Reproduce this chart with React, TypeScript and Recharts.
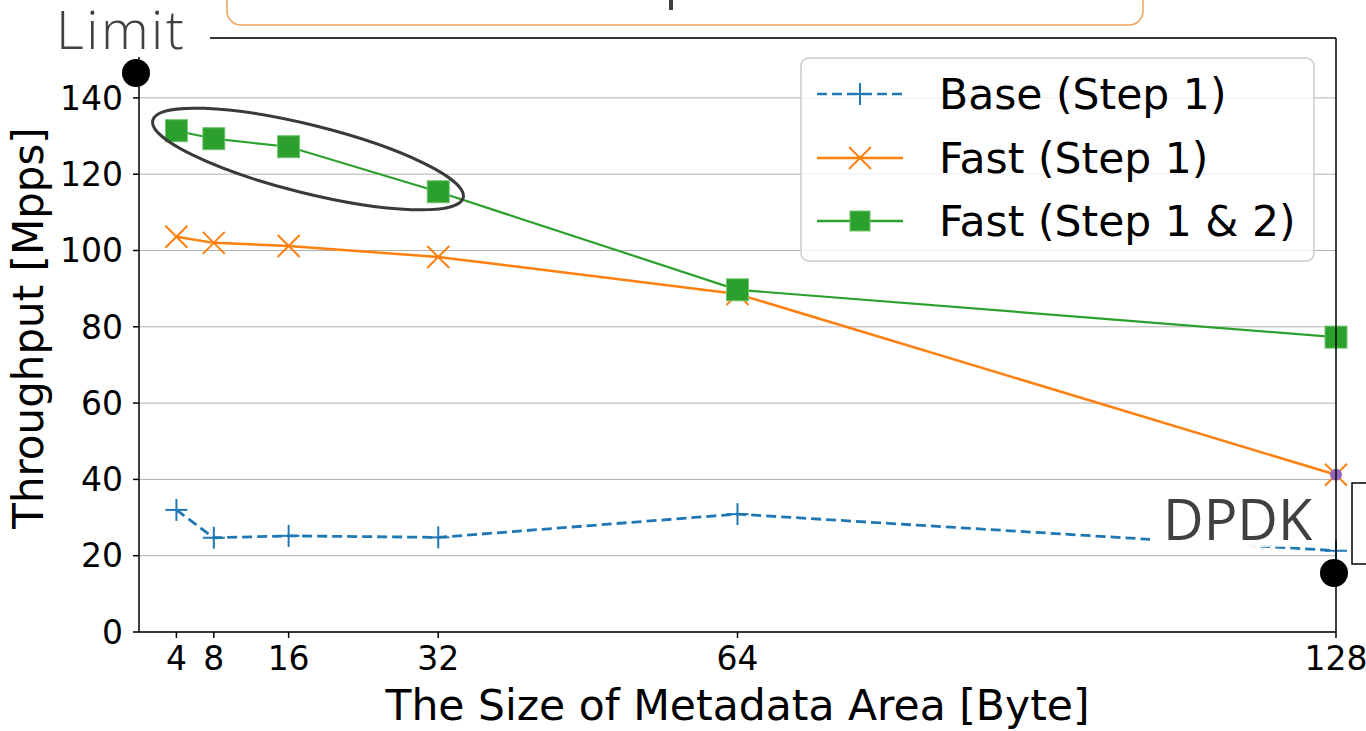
import React from 'react';
import { LineChart, Line, XAxis, YAxis, CartesianGrid, ReferenceDot, Label } from 'recharts';

// metadata area size in bytes
const sizes = [4, 8, 16, 32, 64, 128];
// throughput in Mpps
const baseStep1 = [32.0, 24.7, 25.2, 24.8, 30.9, 21.3];
const fastStep1 = [103.6, 102.0, 101.2, 98.3, 88.6, 41.2];
const fastStep12 = [131.4, 129.3, 127.2, 115.4, 89.7, 77.3];
const yTicks = [0, 20, 40, 60, 80, 100, 120, 140];

const BLUE = '#1f77b4';
const ORANGE = '#ff7f0e';
const GREEN = '#2ca02c';
const FONT = '"DejaVu Sans", sans-serif';
const SLIDE_FONT = '"Open Sans", "Noto Sans", sans-serif';

const data = sizes.map((s, i) => ({
  size: s,
  base: baseStep1[i],
  fast: fastStep1[i],
  fast2: fastStep12[i],
}));

const plusMark = (cx: number, cy: number, key?: string) => (
  <g key={key}>
    <line x1={cx} y1={cy - 11} x2={cx} y2={cy + 11} stroke={BLUE} strokeWidth={2} />
    <line x1={cx - 11} y1={cy} x2={cx + 11} y2={cy} stroke={BLUE} strokeWidth={2} />
  </g>
);

const crossMark = (cx: number, cy: number, key?: string) => (
  <g key={key}>
    <line x1={cx - 11} y1={cy - 11} x2={cx + 11} y2={cy + 11} stroke={ORANGE} strokeWidth={2} />
    <line x1={cx - 11} y1={cy + 11} x2={cx + 11} y2={cy - 11} stroke={ORANGE} strokeWidth={2} />
  </g>
);

const squareMark = (cx: number, cy: number, key?: string, half = 11) => (
  <rect key={key} x={cx - half} y={cy - half} width={half * 2} height={half * 2} fill={GREEN} stroke="#72c472" strokeWidth={1} />
);

const PlusDot = (p: any) => (p.cx == null ? <g key={`p-${p.index}`} /> : plusMark(p.cx, p.cy, `p-${p.index}`));
const CrossDot = (p: any) => (p.cx == null ? <g key={`x-${p.index}`} /> : crossMark(p.cx, p.cy, `x-${p.index}`));
const SquareDot = (p: any) => (p.cx == null ? <g key={`s-${p.index}`} /> : squareMark(p.cx, p.cy, `s-${p.index}`));

const legendRows = [
  { name: 'Base (Step 1)', kind: 'base' },
  { name: 'Fast (Step 1)', kind: 'fast' },
  { name: 'Fast (Step 1 & 2)', kind: 'fast2' },
];

const Overlay = () => {
  const rowY = [94, 158, 221];
  return (
    <svg width={1366} height={731} style={{ position: 'absolute', left: 0, top: 0, pointerEvents: 'none' }}>
      <defs>
        <linearGradient id="fadeWhite" x1="0" x2="1" y1="0" y2="0">
          <stop offset="0%" stopColor="#fff" stopOpacity={1} />
          <stop offset="55%" stopColor="#fff" stopOpacity={1} />
          <stop offset="100%" stopColor="#fff" stopOpacity={0.3} />
        </linearGradient>
      </defs>
      {/* top and right spines */}
      <line x1={139} y1={38} x2={1336} y2={38} stroke="#000" strokeWidth={1.5} />
      <line x1={1336} y1={38} x2={1336} y2={632} stroke="#000" strokeWidth={1.5} />

      {/* legend */}
      <rect x={801} y={58} width={513} height={203} rx={8} fill="#fff" fillOpacity={0.8} stroke="#cccccc" strokeWidth={1.5} />
      {legendRows.map((r, i) => {
        const y = rowY[i];
        return (
          <g key={r.name}>
            {r.kind === 'base' && (
              <>
                <line x1={817} y1={y} x2={903} y2={y} stroke={BLUE} strokeWidth={2.5} strokeDasharray="10 5" />
                {plusMark(860, y)}
              </>
            )}
            {r.kind === 'fast' && (
              <>
                <line x1={817} y1={y} x2={903} y2={y} stroke={ORANGE} strokeWidth={2.5} />
                {crossMark(860, y)}
              </>
            )}
            {r.kind === 'fast2' && (
              <>
                <line x1={817} y1={y} x2={903} y2={y} stroke={GREEN} strokeWidth={2.5} />
                {squareMark(860, y, undefined, 10)}
              </>
            )}
            <text x={939} y={y + 15} fontSize={42.5} fontFamily={FONT} fill="#000">
              {r.name}
            </text>
          </g>
        );
      })}

      {/* slide annotations */}
      <ellipse cx={308} cy={159} rx={160} ry={34} transform="rotate(14 308 159)" fill="none" stroke="#3a3a3a" strokeWidth={3} />
      <rect x={227} y={-20} width={916} height={45} rx={14} fill="#fff" stroke="#f2a25e" strokeWidth={1.5} />
      <line x1={671} y1={0} x2={671} y2={10} stroke="#404040" strokeWidth={4} />
      <rect x={45} y={0} width={165} height={57} fill="#fff" />
      <text x={56} y={49} fontSize={54} fontWeight={300} letterSpacing={2.5} fontFamily={SLIDE_FONT} fill="#404040">Limit</text>
      <circle cx={136} cy={73} r={14} fill="#000" />

      <rect x={1150} y={487} width={175} height={60} fill="url(#fadeWhite)" />
      <text x={1163} y={540} fontSize={56} fontFamily={SLIDE_FONT} fill="#404040">DPDK</text>
      <rect x={1352} y={483} width={30} height={81} fill="#fff" stroke="#000" strokeWidth={1.5} />
      <circle cx={1334} cy={573} r={14} fill="#000" />
    </svg>
  );
};

const App: React.FC = () => {
  const tickStyle = { fontSize: 33, fill: '#000', fontFamily: FONT };
  return (
    <div style={{ position: 'absolute', left: 0, top: 0, width: 1366, height: 731, background: '#fff', overflow: 'hidden' }}>
      <LineChart width={1366} height={731} data={data} margin={{ top: 38, right: 30, bottom: 0, left: 0 }}>
        <CartesianGrid vertical={false} stroke="#b0b0b0" strokeWidth={1} />
        <XAxis
          dataKey="size"
          type="number"
          domain={[0, 128]}
          ticks={sizes}
          interval={0}
          height={99}
          tickSize={6}
          tickMargin={9}
          tick={tickStyle}
          axisLine={{ stroke: '#000', strokeWidth: 1.5 }}
          tickLine={{ stroke: '#000', strokeWidth: 1.5 }}
        >
          <Label value="The Size of Metadata Area [Byte]" position="insideBottom" offset={11} fontSize={42.5} fill="#000" fontFamily={FONT} />
        </XAxis>
        <YAxis
          type="number"
          domain={[0, 155.7]}
          ticks={yTicks}
          interval={0}
          width={139}
          tickSize={6}
          tickMargin={10}
          tick={tickStyle}
          axisLine={{ stroke: '#000', strokeWidth: 1.5 }}
          tickLine={{ stroke: '#000', strokeWidth: 1.5 }}
        >
          <Label
            content={() => (
              <text x={43} y={328} transform="rotate(-90 43 328)" textAnchor="middle" fontSize={42} fontFamily={FONT} fill="#000">
                Throughput [Mpps]
              </text>
            )}
          />
        </YAxis>
        <Line type="linear" dataKey="base" stroke={BLUE} strokeWidth={2.8} strokeDasharray="10 5" dot={PlusDot} activeDot={false} isAnimationActive={false} />
        <Line type="linear" dataKey="fast" stroke={ORANGE} strokeWidth={2.5} dot={CrossDot} activeDot={false} isAnimationActive={false} />
        <Line type="linear" dataKey="fast2" stroke={GREEN} strokeWidth={2.2} dot={SquareDot} activeDot={false} isAnimationActive={false} />
        <ReferenceDot x={128} y={fastStep1[5]} r={6} fill="#9467bd" stroke="none" />
      </LineChart>
      <Overlay />
    </div>
  );
};

export default App;
